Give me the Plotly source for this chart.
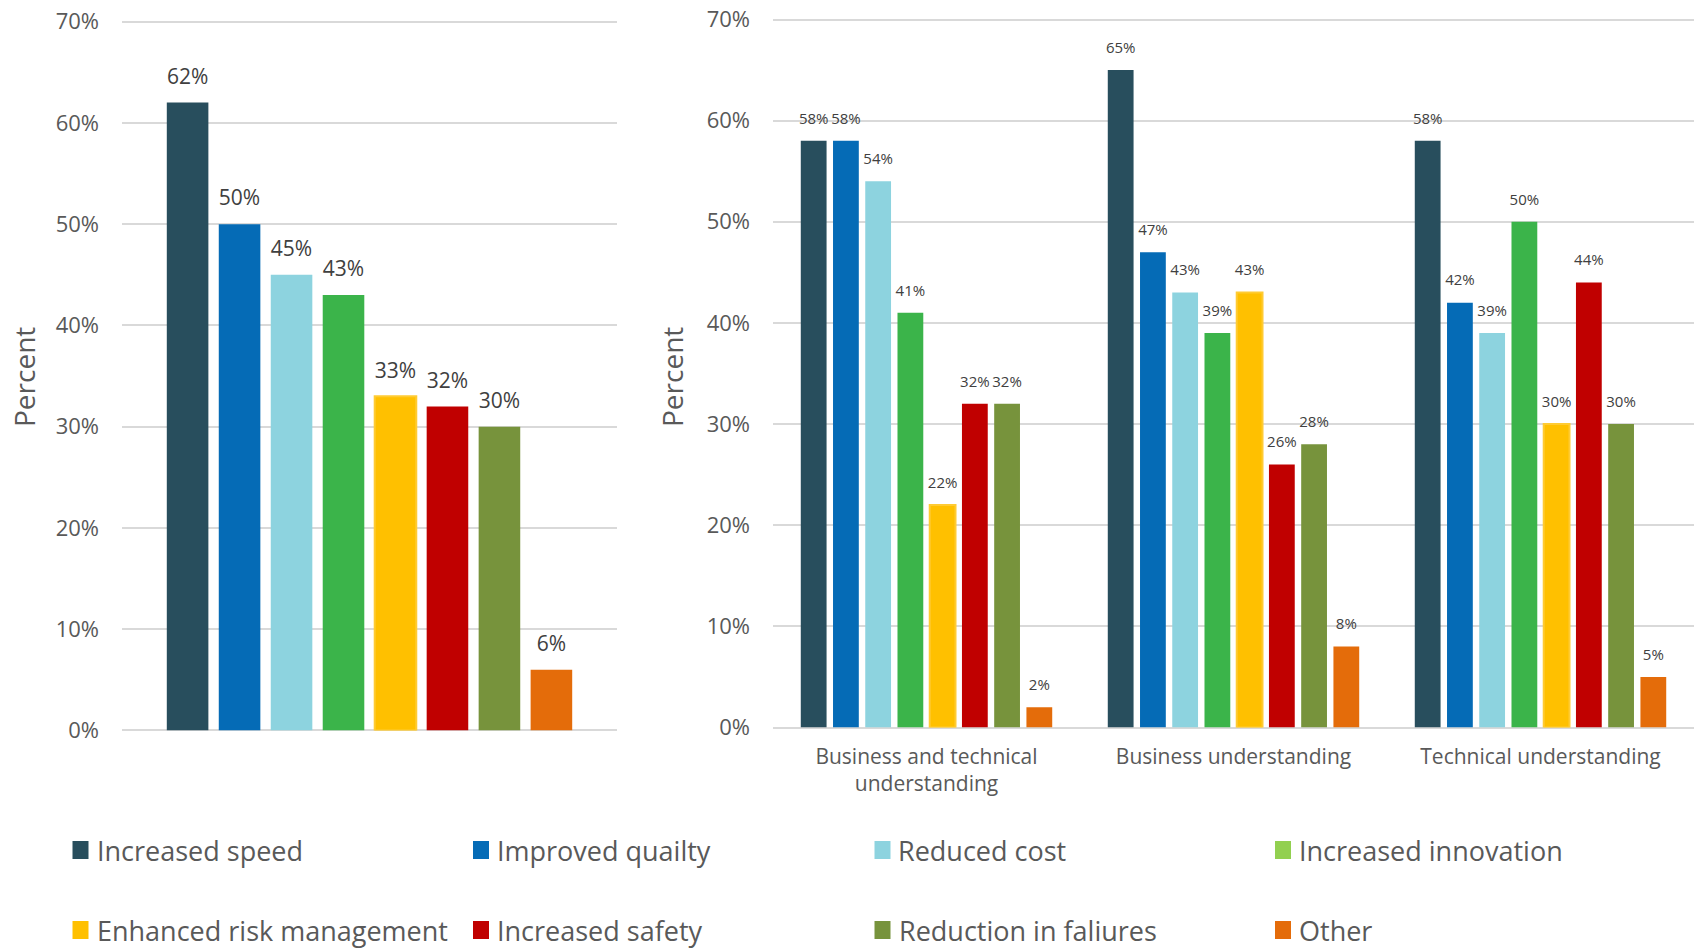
import plotly.graph_objects as go

# Benefit categories and their colours
series = [
    "Increased speed", "Improved quailty", "Reduced cost", "Increased innovation",
    "Enhanced risk management", "Increased safety", "Reduction in faliures", "Other",
]
bar_colors = ["#284E5D", "#056BB6", "#8DD3DF", "#3BB44A",
              "#FFC000", "#C00000", "#77933C", "#E46C0A"]
legend_colors = ["#284E5D", "#056BB6", "#8DD3DF", "#92D050",
                 "#FFC000", "#C00000", "#77933C", "#E46C0A"]
# only the risk-management bars carry a soft outline
outline_widths = [0, 0, 0, 0, 2, 0, 0, 0]

# Overall share of respondents (left chart)
overall = [62, 50, 45, 43, 33, 32, 30, 6]

# Share by type of understanding (right chart)
groups = ["Business and technical<br>understanding", "Business understanding",
          "Technical understanding"]
by_group = {
    "Increased speed":          [58, 65, 58],
    "Improved quailty":         [58, 47, 42],
    "Reduced cost":             [54, 43, 39],
    "Increased innovation":     [41, 39, 50],
    "Enhanced risk management": [22, 43, 30],
    "Increased safety":         [32, 26, 44],
    "Reduction in faliures":    [32, 28, 30],
    "Other":                    [2, 8, 5],
}

y_ticks = [0, 10, 20, 30, 40, 50, 60, 70]
y_tick_labels = [f"{v}%" for v in y_ticks]

W, H = 1697, 950
FONT = "Open Sans"
TICK_COLOR = "#595959"
LABEL_COLOR = "#404040"
GRID = "#D9D9D9"
Y_TOP = 70.5   # a little headroom so the 70% gridline is drawn


def fx(px):
    return px / W


def fy(py):
    return 1 - py / H


def top_px(p70, p0):
    # pixel row of the axis top, given the pixel rows of 70% and 0%
    return p0 - (p0 - p70) * Y_TOP / 70


fig = go.Figure()

for i, name in enumerate(series):
    line = dict(width=outline_widths[i], color="#FFCB33")
    # left: single overall group
    fig.add_trace(go.Bar(
        x=["All"], y=[overall[i]], name=name, marker_color=bar_colors[i],
        marker_line=line, offsetgroup=name, xaxis="x", yaxis="y",
        showlegend=False, hoverinfo="skip",
    ))
    fig.add_trace(go.Scatter(
        x=["All"], y=[overall[i]], text=[f"{overall[i]}%"], mode="markers+text",
        textposition="top center", offsetgroup=name,
        marker=dict(size=20, color="rgba(0,0,0,0)"),
        textfont=dict(family=FONT, size=21, color=LABEL_COLOR),
        xaxis="x", yaxis="y", showlegend=False, hoverinfo="skip", cliponaxis=False,
    ))
    # right: grouped by understanding
    vals = by_group[name]
    fig.add_trace(go.Bar(
        x=groups, y=vals, name=name, marker_color=bar_colors[i],
        marker_line=line, offsetgroup=name, xaxis="x2", yaxis="y2",
        showlegend=False, hoverinfo="skip",
    ))
    fig.add_trace(go.Scatter(
        x=groups, y=vals, text=[f"{v}%" for v in vals], mode="markers+text",
        textposition="top center", offsetgroup=name,
        marker=dict(size=20, color="rgba(0,0,0,0)"),
        textfont=dict(family=FONT, size=15, color=LABEL_COLOR),
        xaxis="x2", yaxis="y2", showlegend=False, hoverinfo="skip", cliponaxis=False,
    ))

yaxis_common = dict(
    range=[0, Y_TOP], tickvals=y_ticks, ticktext=y_tick_labels,
    showgrid=True, gridcolor=GRID, gridwidth=1.5,
    zeroline=True, zerolinecolor=GRID, zerolinewidth=1.5,
    tickfont=dict(family=FONT, size=22, color=TICK_COLOR),
    ticklabelstandoff=22, fixedrange=True, automargin=False,
)

fig.update_layout(
    width=W, height=H,
    margin=dict(l=0, r=0, t=0, b=0),
    paper_bgcolor="white", plot_bgcolor="white",
    barmode="group", bargap=0.16, bargroupgap=0.2,
    scattermode="group",
    showlegend=False,
    xaxis=dict(domain=[fx(122), fx(617)], anchor="y", showticklabels=False,
               showgrid=False, zeroline=False, fixedrange=True, automargin=False),
    yaxis=dict(domain=[fy(730.5), fy(top_px(21.6, 730.5))], anchor="x",
               **yaxis_common),
    xaxis2=dict(domain=[fx(773), fx(1694)], anchor="y2", showgrid=False,
                zeroline=False, fixedrange=True, ticklabelstandoff=14,
                automargin=False,
                tickfont=dict(family=FONT, size=21, color=TICK_COLOR)),
    yaxis2=dict(domain=[fy(727.5), fy(top_px(19.5, 727.5))], anchor="x2",
                **yaxis_common),
)

# axis titles
for xpx in (24, 672):
    fig.add_annotation(
        x=fx(xpx), y=fy(377), xref="paper", yref="paper", text="Percent",
        textangle=-90, showarrow=False, xanchor="center", yanchor="middle",
        font=dict(family=FONT, size=28, color=TICK_COLOR),
    )

# legend in two rows of four
col_x = [72.5, 473, 874.5, 1275]
row_y = [850, 930]
for i, name in enumerate(series):
    cx = col_x[i % 4]
    cy = row_y[i // 4]
    fig.add_shape(
        type="rect", xref="paper", yref="paper",
        x0=fx(cx), x1=fx(cx + 16), y0=fy(cy + 9), y1=fy(cy - 9),
        fillcolor=legend_colors[i], line=dict(width=0),
    )
    fig.add_annotation(
        x=fx(cx + 22), y=fy(cy), xref="paper", yref="paper", text=name,
        showarrow=False, xanchor="left", yanchor="middle",
        font=dict(family=FONT, size=27, color=TICK_COLOR),
    )

fig.write_html("out.html", config={"displayModeBar": False})
